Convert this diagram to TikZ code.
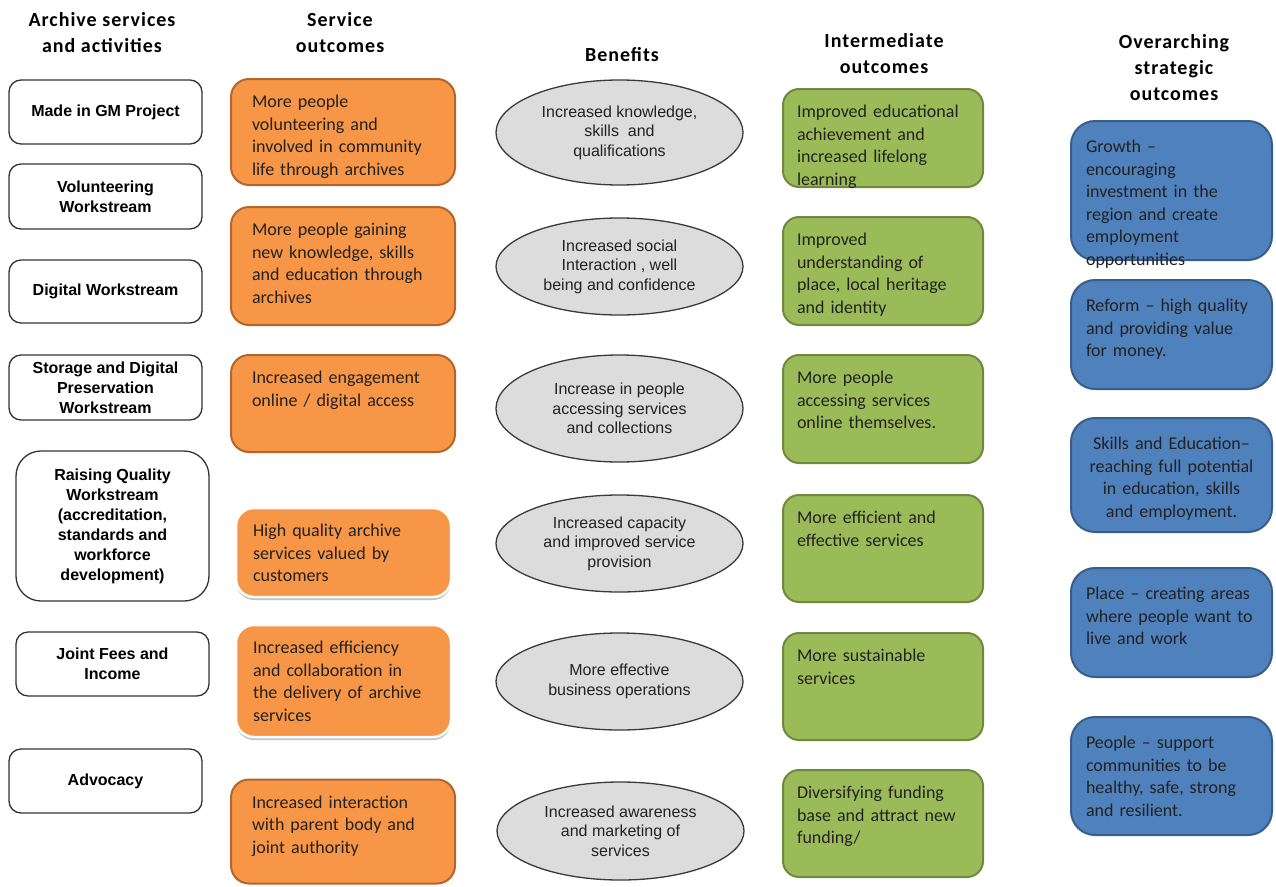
\documentclass[tikz,border=0pt]{standalone}
\usepackage{fontspec}
\usetikzlibrary{shapes.geometric,shadows}
\newfontfamily\arialf{Liberation Sans}
\newfontfamily\calf{Carlito}
\newfontfamily\headf{Carlito}[LetterSpace=5]
\definecolor{orfill}{HTML}{F79646}
\definecolor{orline}{HTML}{B5652A}
\definecolor{grfill}{HTML}{9BBB59}
\definecolor{grline}{HTML}{71893F}
\definecolor{blfill}{HTML}{4F81BD}
\definecolor{blline}{HTML}{385D8A}
\definecolor{benfill}{HTML}{DCDCDC}
\definecolor{benline}{HTML}{3A3A3A}
\definecolor{actline}{HTML}{333333}
\definecolor{shadowgray}{HTML}{BFC4CC}
\definecolor{textdark}{HTML}{222222}
\newcommand{\tb}[2]{\vbox to #1pt{#2\vfil}}
\begin{document}
\begin{tikzpicture}[x=1pt,y=-1pt,
		hd/.style={font=\headf\bfseries\fontsize{20}{26}\selectfont,align=center},
		act/.style={draw=actline,line width=1.3pt,fill=white,rounded corners=12pt,minimum width=193pt,inner sep=0pt,align=center,font=\arialf\bfseries\fontsize{16}{20}\selectfont},
		ben/.style={ellipse,draw=benline,line width=1.3pt,fill=benfill,minimum width=247pt,inner sep=0pt,align=center,text=textdark,font=\arialf\fontsize{16}{19.5}\selectfont},
		svc/.style={draw=orline,line width=2pt,fill=orfill,rounded corners=18pt,text width=182pt,inner xsep=21pt,inner ysep=16pt,align=left,text=textdark,font=\calf\fontsize{18}{22.5}\selectfont},
		svcs/.style={svc,draw=white,line width=2.5pt,text width=181pt,inner xsep=17pt,drop shadow={shadow xshift=0pt,shadow yshift=-3pt,fill=shadowgray,opacity=1}},
		inter/.style={draw=grline,line width=2pt,fill=grfill,rounded corners=16pt,text width=172pt,inner xsep=14pt,inner ysep=16pt,align=left,text=textdark,font=\calf\fontsize{18}{22.5}\selectfont},
		goal/.style={draw=blline,line width=2pt,fill=blfill,rounded corners=24pt,text width=171pt,inner xsep=15pt,inner ysep=19pt,align=left,text=textdark,font=\calf\fontsize{18}{22.5}\selectfont}]
	\fill[white] (0,0) rectangle (1276,886);
	\node[hd] (H1) at (102,33) {Archive services\\and activities};
	\node[hd] (H2) at (340,33) {Service\\outcomes};
	\node[hd] (H3) at (622,55) {Benefits};
	\node[hd] (H4) at (884,54) {Intermediate\\outcomes};
	\node[hd] (H5) at (1174,68) {Overarching\\strategic\\outcomes};
	\node[act,minimum height=64pt] (A1) at (105.5,112) {Made in GM Project};
	\node[act,minimum height=65pt] (A2) at (105.5,196.5) {Volunteering\\Workstream};
	\node[act,minimum height=63pt] (A3) at (105.5,291.5) {Digital Workstream};
	\node[act,minimum height=65pt] (A4) at (105.5,387.5) {Storage and Digital\\Preservation\\Workstream};
	\node[act,minimum height=150pt,rounded corners=25pt] (A5) at (112.5,526) {Raising Quality\\Workstream\\(accreditation,\\standards and\\workforce\\development)};
	\node[act,minimum height=64pt] (A6) at (112.5,664) {Joint Fees and\\Income};
	\node[act,minimum height=64pt] (A7) at (105.5,781) {Advocacy};
	\node[svc] (S1) at (343,132) {\tb{74}{More people\\volunteering and\\involved in community\\life through archives}};
	\node[svc] (S2) at (343,266) {\tb{86}{More people gaining\\new knowledge, skills\\and education through\\archives}};
	\node[svc] (S3) at (343,403.5) {\tb{65}{Increased engagement\\online / digital access}};
	\node[svcs] (S4) at (343.5,552.5) {\tb{57}{High quality archive\\services valued by\\customers}};
	\node[svcs] (S5) at (343.5,681) {\tb{80}{Increased efficiency\\and collaboration in\\the delivery of archive\\services}};
	\node[svc] (S6) at (343,831.5) {\tb{72}{Increased interaction\\with parent body and\\joint authority}};
	\node[ben,minimum height=105pt] (B1) at (619.5,132.5) {Increased knowledge,\\skills\ \ and\\qualifications};
	\node[ben,minimum height=97pt] (B2) at (619.5,266.5) {Increased social\\Interaction , well\\being and confidence};
	\node[ben,minimum height=107pt] (B3) at (619.5,408.5) {Increase in people\\accessing services\\and collections};
	\node[ben,minimum height=97pt] (B4) at (619.5,543.5) {Increased capacity\\and improved service\\provision};
	\node[ben,minimum height=97pt] (B5) at (619.5,681.5) {More effective\\business operations};
	\node[ben,minimum height=98pt] (B6) at (620.5,831) {Increased awareness\\and marketing of\\services};
	\node[inter] (I1) at (883,138) {\tb{66}{Improved educational\\achievement and\\increased lifelong\\learning}};
	\node[inter] (I2) at (883,271) {\tb{76}{Improved\\understanding of\\place, local heritage\\and identity}};
	\node[inter] (I3) at (883,409) {\tb{76}{More people\\accessing services\\online themselves.}};
	\node[inter] (I4) at (883,548.5) {\tb{75}{More efficient and\\effective services}};
	\node[inter] (I5) at (883,686.5) {\tb{75}{More sustainable\\services}};
	\node[inter] (I6) at (883,823.5) {\tb{75}{Diversifying funding\\base and attract new\\funding/}};
	\node[goal] (O1) at (1171.5,190.5) {\tb{101}{Growth –\\encouraging\\investment in the\\region and create\\employment\\opportunities}};
	\node[goal] (O2) at (1171.5,334.5) {\tb{71}{Reform – high quality\\and providing value\\for money.}};
	\node[goal,align=center] (O3) at (1171.5,475) {\tb{76}{Skills and Education–\\reaching full potential\\in education, skills\\and employment.}};
	\node[goal] (O4) at (1171.5,622.5) {\tb{71}{Place – creating areas\\where people want to\\live and work}};
	\node[goal] (O5) at (1171.5,776) {\tb{80}{People – support\\communities to be\\healthy, safe, strong\\and resilient.}};
\end{tikzpicture}
\end{document}
